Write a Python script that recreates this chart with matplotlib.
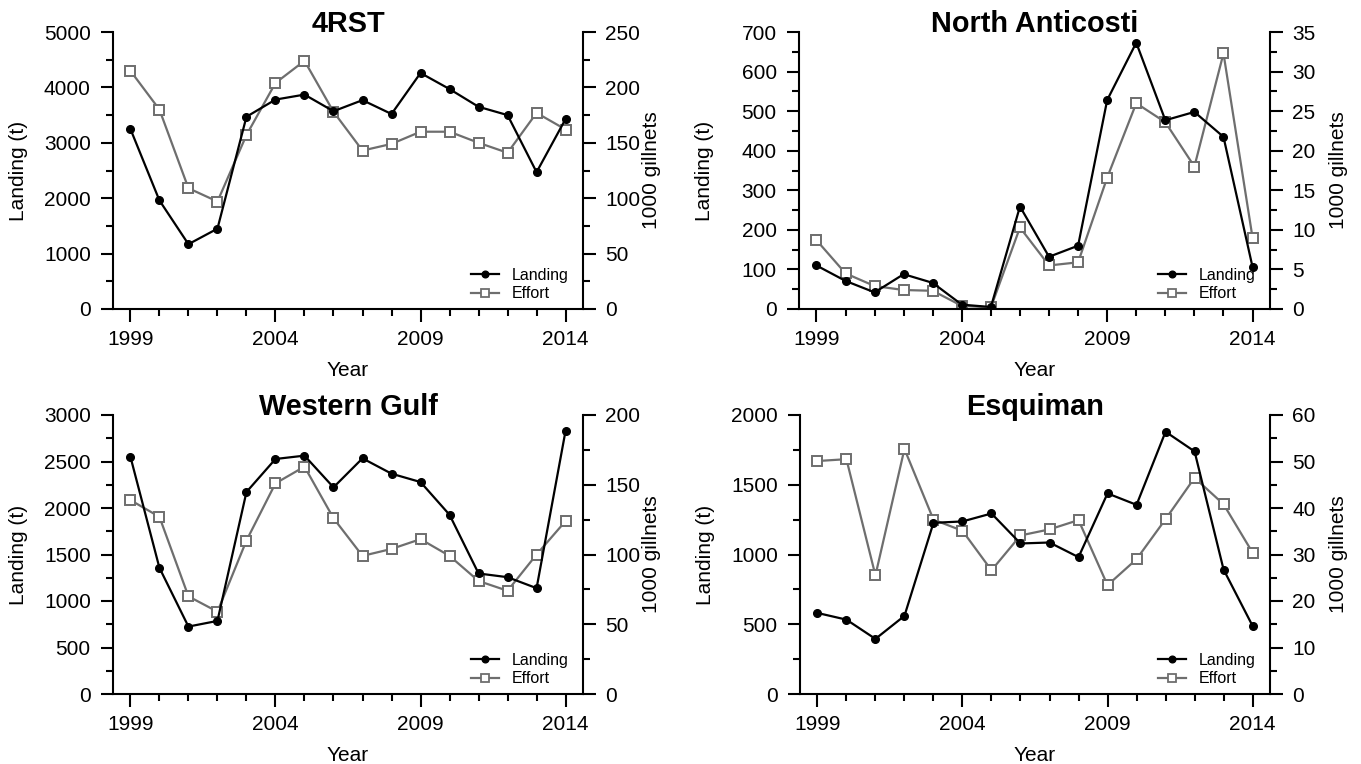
import matplotlib
matplotlib.use("Agg")
import matplotlib.pyplot as plt
from matplotlib.ticker import MultipleLocator, FixedLocator
from matplotlib.lines import Line2D

plt.rcParams['font.family'] = ['Liberation Sans', 'DejaVu Sans']

years = list(range(1999, 2015))

# Landings (t) and fishing effort (1000 gillnets) by area
landing_4rst = [3250, 1960, 1170, 1450, 3470, 3780, 3870, 3570, 3770, 3520,
                4260, 3970, 3650, 3500, 2470, 3430]
effort_4rst = [215, 180, 109, 97, 157, 204, 224, 178, 143, 149,
               160, 160, 150, 141, 177, 162]

landing_north = [110, 71, 42, 88, 66, 11, 5, 259, 132, 160,
                 528, 673, 477, 498, 435, 106]
effort_north = [8.7, 4.5, 2.9, 2.4, 2.3, 0.4, 0.2, 10.3, 5.5, 5.9,
                16.6, 26.0, 23.6, 18.0, 32.3, 9.0]

landing_west = [2552, 1357, 725, 786, 2172, 2527, 2563, 2222, 2534, 2369,
                2279, 1927, 1296, 1256, 1138, 2832]
effort_west = [139, 127, 70, 59, 110, 151, 163, 126, 99, 104,
               111, 99, 81, 74, 100, 124]

landing_esq = [581, 533, 395, 560, 1227, 1237, 1294, 1079, 1086, 981,
               1438, 1356, 1880, 1739, 892, 488]
effort_esq = [50.1, 50.5, 25.5, 52.7, 37.5, 35.1, 26.6, 34.1, 35.4, 37.4,
              23.4, 29.0, 37.6, 46.5, 40.8, 30.4]

panels = [
    # title, landing, effort, left (max, major, minor), right (max, major, minor)
    ("4RST", landing_4rst, effort_4rst, (5000, 1000, 500), (250, 50, 25)),
    ("North Anticosti", landing_north, effort_north, (700, 100, 50), (35, 5, 2.5)),
    ("Western Gulf", landing_west, effort_west, (3000, 500, 250), (200, 50, 25)),
    ("Esquiman", landing_esq, effort_esq, (2000, 500, 250), (60, 10, 5)),
]

W, H = 1361, 764
fig = plt.figure(figsize=(W / 100, H / 100), dpi=100)

# axes boxes in pixels: left, right, top, bottom
boxes = [
    (113, 583, 32, 309),
    (799, 1270, 32, 309),
    (113, 583, 415, 694),
    (800, 1270, 415, 694),
]

black = "#000000"
grey = "#6e6e6e"
lw_spine = 1.5
fs = 15

for (title, land, eff, lspec, rspec), (l, r, t, b) in zip(panels, boxes):
    wpx = r - l
    hpx = b - t
    ax = fig.add_axes([l / W, (H - b) / H, wpx / W, hpx / H])
    ax2 = ax.twinx()

    ax.plot(years, land, color=black, lw=1.6, marker='o', ms=5.5,
            mfc=black, mec=black, zorder=3)
    ax2.plot(years, eff, color=grey, lw=1.6, marker='s', ms=6.5,
             mfc='white', mec=grey, mew=1.4, zorder=2)
    ax.set_zorder(ax2.get_zorder() + 1)
    ax.patch.set_visible(False)

    ax.set_xlim(1998.4, 2014.6)
    ax.set_ylim(0, lspec[0])
    ax2.set_ylim(0, rspec[0])

    ax.xaxis.set_major_locator(FixedLocator([1999, 2004, 2009, 2014]))
    ax.xaxis.set_minor_locator(MultipleLocator(1))
    ax.yaxis.set_major_locator(MultipleLocator(lspec[1]))
    ax.yaxis.set_minor_locator(MultipleLocator(lspec[2]))
    ax2.yaxis.set_major_locator(MultipleLocator(rspec[1]))
    ax2.yaxis.set_minor_locator(MultipleLocator(rspec[2]))

    for a in (ax, ax2):
        a.tick_params(which='major', direction='out', length=9, width=lw_spine,
                      labelsize=fs, colors=black)
        a.tick_params(which='minor', direction='out', length=5, width=lw_spine)
        a.tick_params(axis='y', which='major', pad=7)
        for s in a.spines.values():
            s.set_linewidth(lw_spine)
        a.spines['top'].set_visible(False)
    ax.tick_params(axis='x', which='major', pad=6)
    ax.spines['right'].set_visible(False)
    ax2.spines['left'].set_visible(False)
    ax2.spines['bottom'].set_visible(False)

    # panel title sits on the top edge of the plotting area
    ax.text(0.5, 1.0, title, transform=ax.transAxes, ha='center',
            va='baseline', fontsize=20.8, fontweight='bold')
    ax.set_xlabel("Year", fontsize=fs, labelpad=9)
    ax.set_ylabel("Landing (t)", fontsize=fs)
    ax.yaxis.set_label_coords(-85 / wpx, 0.5)
    ax2.set_ylabel("1000 gillnets", fontsize=fs)
    ax2.yaxis.set_label_coords(1 + 59 / wpx, 0.5)

    handles = [
        Line2D([], [], color=black, lw=1.6, marker='o', ms=4.8, mfc=black, mec=black),
        Line2D([], [], color=grey, lw=1.6, marker='s', ms=5.5, mfc='white',
               mec=grey, mew=1.3),
    ]
    ax.legend(handles, ["Landing", "Effort"], loc='lower right', frameon=False,
              fontsize=11.5, handlelength=1.75, handletextpad=0.8,
              labelspacing=0.22, borderaxespad=0.0,
              bbox_to_anchor=(1 - 8 / wpx, 1.5 / hpx))

fig.savefig("out.png", dpi=100, facecolor='white')
